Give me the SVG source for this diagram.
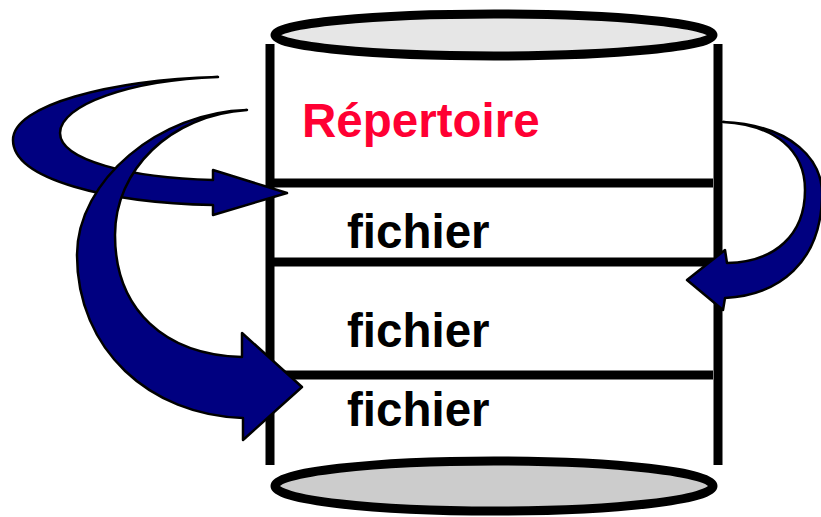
<svg xmlns="http://www.w3.org/2000/svg" width="821" height="517" viewBox="0 0 821 517">
<style>
.wall{stroke:#000;stroke-width:9;fill:none}
.ell{stroke:#000;stroke-width:9}
.arrow{fill:#000080;stroke:#000;stroke-width:2.5;stroke-linejoin:round}
.t{font-family:"Liberation Sans",Arial,sans-serif;font-weight:bold;font-size:47.5px}
</style>
<rect width="821" height="517" fill="#fff"/>
<g id="cylinder">
<line class="wall" x1="270" y1="44" x2="270" y2="465"/>
<line class="wall" x1="718" y1="44" x2="718" y2="465"/>
<ellipse class="ell" cx="494" cy="35" rx="219" ry="21" fill="#e6e6e6"/>
<ellipse class="ell" cx="494" cy="486" rx="219" ry="25" fill="#cccccc"/>
</g>
<g id="repertoire">
<text class="t" x="302" y="137" fill="#ff0033">Répertoire</text>
<line class="wall" x1="270" y1="183" x2="713" y2="183"/>
</g>
<g id="fichier1">
<text class="t" x="347" y="248" fill="#000">fichier</text>
<line class="wall" x1="270" y1="262" x2="713" y2="262"/>
</g>
<g id="fichier2">
<text class="t" x="347" y="347" fill="#000">fichier</text>
<line class="wall" x1="270" y1="375" x2="713" y2="375"/>
</g>
<g id="fichier3">
<text class="t" x="347" y="426" fill="#000">fichier</text>
</g>
<g id="connectors">
<path class="arrow" d="M218,77 C110,80 13,105 13,140 C13,180 110,203 213,205 L213,215 L287,193 L213,170 L213,180 C130,178 60,160 60,133 C60,105 130,80 218,77 Z"/>
<path class="arrow" d="M247,110 C160,112 77,180 77,255 C77,350 150,415 243,418 L243,440 L302,387 L242,333 L242,357 C165,355 115,310 115,235 C115,170 170,115 247,110 Z"/>
<path class="arrow" d="M723,122 C792,125 824,160 822,198 C820,262 780,295 725,298 L723,310 L687,280 L725,250 L727,263 C775,262 805,235 805,190 C805,150 775,125 723,122 Z"/>
</g>
</svg>
